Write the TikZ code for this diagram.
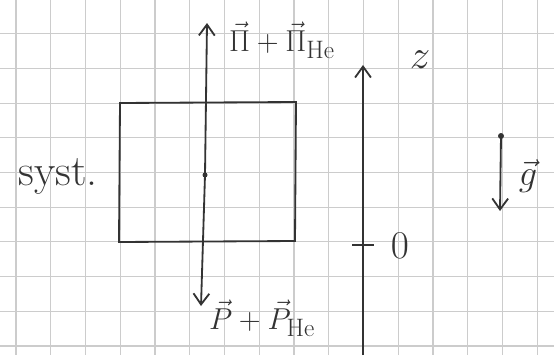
\documentclass[tikz,border=0pt]{standalone}
\usepackage{amsmath}
\usetikzlibrary{arrows.meta}
\tikzset{
  gridline/.style={gray!40, line width=0.9pt},
  pen/.style={line width=1.5pt, black!80},
  vecarrow/.style={pen, -{Straight Barb[length=9pt, width=13pt, line width=1.5pt]}},
  handlabel/.style={font=\Huge, text=black!80, inner sep=0pt}
}
\begin{document}
\begin{tikzpicture}[x=0.289mm, y=-0.289mm]
\useasboundingbox (0,0) rectangle (554,355);
\fill[white] (0,0) rectangle (554,355);
\foreach \i in {0,...,15}
  \draw[gridline] ({16+34.75*\i},0) -- ++(0,355);
\foreach \j in {0,...,9}
  \draw[gridline] (0,{33.7+34.7*\j}) -- ++(554,0);
\coordinate (c) at (205,175);
\coordinate (ptop) at (207,23);
\coordinate (pbot) at (201,306);
\draw[pen] (120,103) -- (296,102) -- (295,241) -- (119,242) -- cycle;
\draw[vecarrow] (c) -- (ptop);
\draw[vecarrow] (c) -- (pbot);
\fill[black!80] (c) circle (2.5);
\node[handlabel] (pilab) at (282,40) {$\vec{\Pi}+\vec{\Pi}_{\mathrm{He}}$};
\node[handlabel] (plab) at (262,318) {$\vec{P}+\vec{P}_{\mathrm{He}}$};
\node[handlabel, font=\fontsize{36}{40}\selectfont] (syst) at (58,176) {syst.};
\coordinate (zbot) at (363,355);
\coordinate (ztop) at (363,65);
\coordinate (zzero) at (363,245);
\draw[vecarrow] (zbot) -- (ztop);
\draw[pen] ([xshift=-9]zzero) -- ([xshift=9]zzero);
\node[handlabel, scale=1.35] (zlab) at (420,60) {$z$};
\node[handlabel, scale=1.3] (zerolab) at (400,246) {$0$};
\coordinate (gtail) at (501,136);
\coordinate (gtip) at (500,211);
\draw[vecarrow] (gtail) -- (gtip);
\fill[black!80] (gtail) circle (3);
\node[handlabel, scale=1.2] (glab) at (528,176) {$\vec{g}$};
\end{tikzpicture}
\end{document}
